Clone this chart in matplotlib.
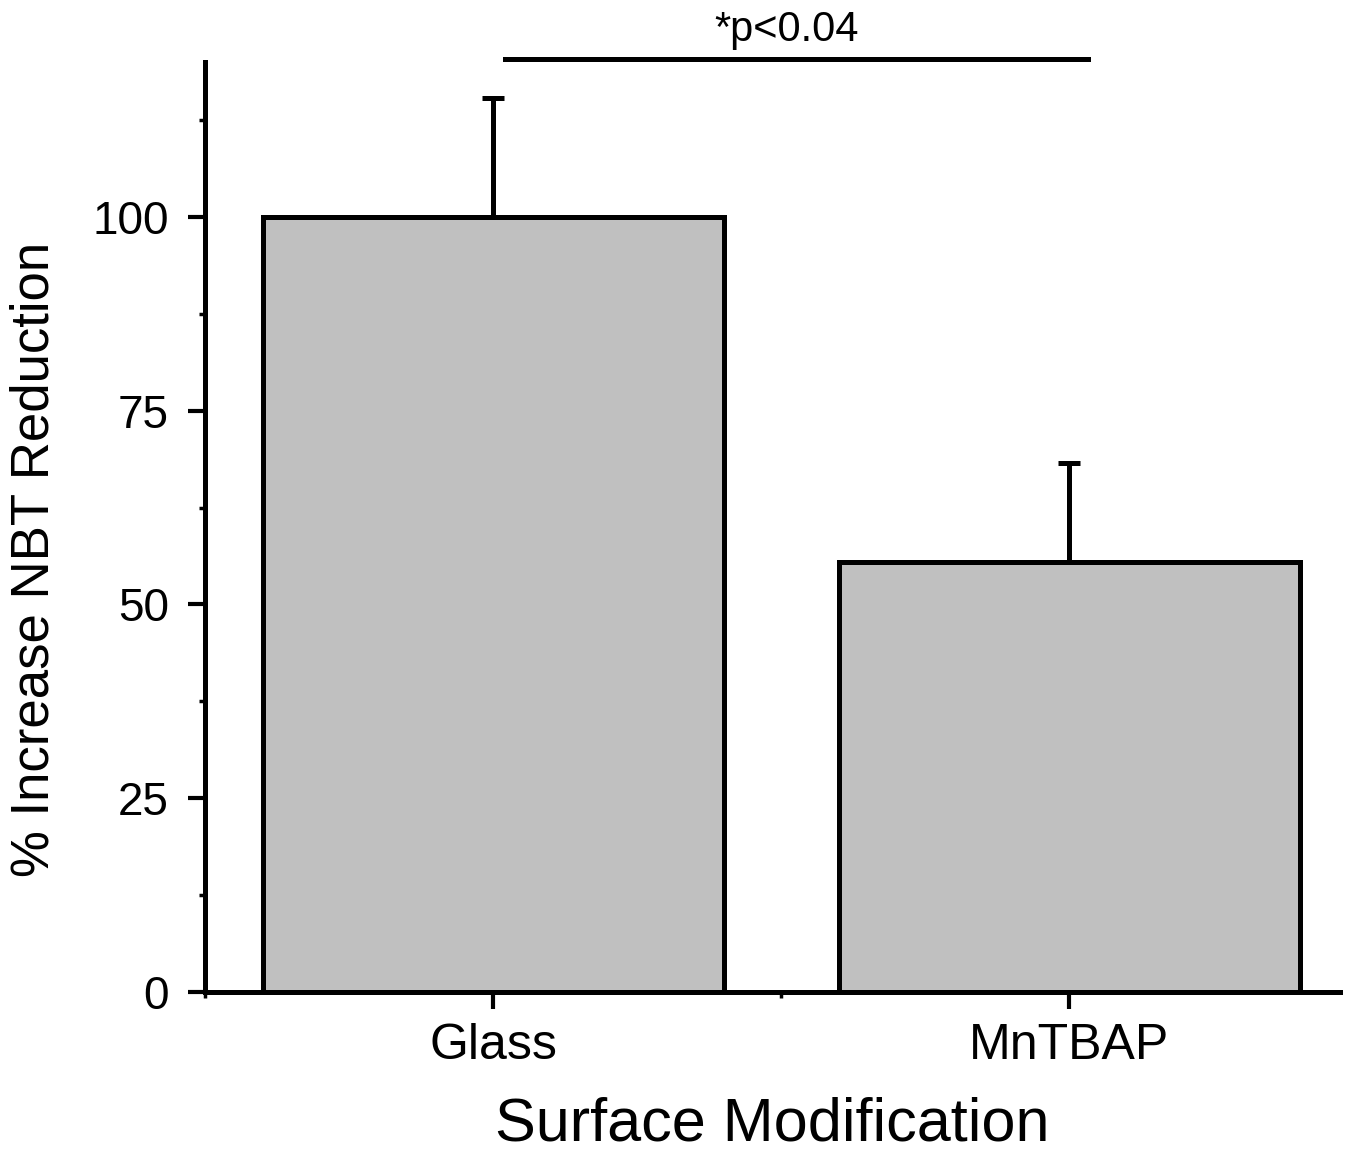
import numpy as np
import matplotlib.pyplot as plt
from matplotlib.ticker import MultipleLocator

plt.rcParams['font.family'] = ['Liberation Sans', 'DejaVu Sans']

# data
groups = ["Glass", "MnTBAP"]
means = [100, 55.5]
errors = [15.3, 12.8]
sig_text = "*p<0.04"

x = np.arange(1, len(groups) + 1)

fig = plt.figure(figsize=(13.5, 11.61), dpi=100)
ax = fig.add_axes([0.152, 0.1456, 0.8406, 0.801])

ax.bar(x, means, width=0.8, color="#c0c0c0", edgecolor="black", linewidth=3.6, zorder=2)
# one-sided error bars
ax.errorbar(x, means, yerr=[np.zeros(len(errors)), errors], fmt="none",
            ecolor="black", elinewidth=3.6, capsize=8, capthick=3.6, zorder=1)

ax.set_xlim(0.5, 2.47)
ax.set_ylim(0, 120)

ax.set_xticks(x)
ax.set_xticklabels(groups, fontsize=36)
ax.xaxis.set_minor_locator(MultipleLocator(0.5))
ax.yaxis.set_major_locator(MultipleLocator(25))
ax.yaxis.set_minor_locator(MultipleLocator(12.5))
ax.tick_params(axis="y", which="major", labelsize=33, length=12, width=3, pad=14)
ax.tick_params(axis="y", which="minor", length=4, width=2.5)
ax.tick_params(axis="x", which="major", length=12, width=3, pad=10)
ax.tick_params(axis="x", which="minor", length=4, width=2.5)

for side in ["top", "right"]:
    ax.spines[side].set_visible(False)
for side in ["left", "bottom"]:
    ax.spines[side].set_linewidth(3.6)

ax.set_xlabel("Surface Modification", fontsize=44, labelpad=20)
ax.set_ylabel("% Increase NBT Reduction", fontsize=38, labelpad=24, y=0.465)

# significance bar
ax.plot([1.021, 2.033], [120.4, 120.4], color="black", linewidth=3.6, clip_on=False)
ax.text(1.51, 121.5, sig_text, fontsize=30, ha="center", va="bottom")

fig.savefig("out.png", dpi=100)
